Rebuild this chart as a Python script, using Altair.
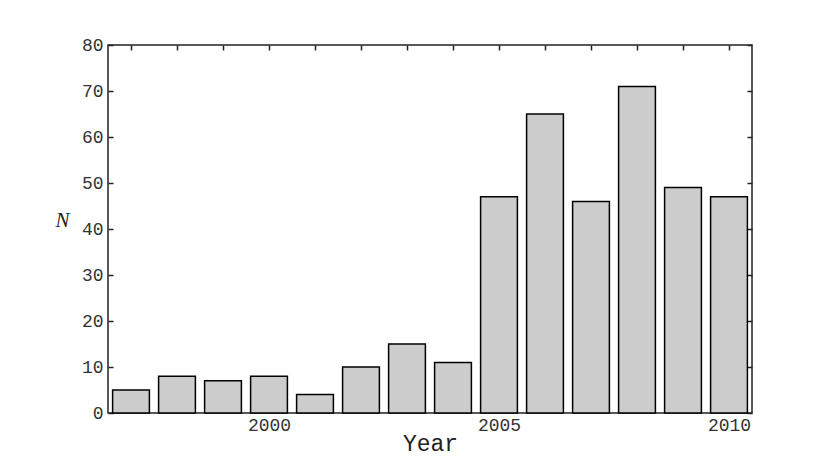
import altair as alt
import pandas as pd

years = list(range(1997, 2011))
counts = [5, 8, 7, 8, 4, 10, 15, 11, 47, 65, 46, 71, 49, 47]
x_label_values = [2000, 2005, 2010]
y_tick_values = [0, 10, 20, 30, 40, 50, 60, 70, 80]

df = pd.DataFrame({"year": years, "n": counts})

MONO = "Liberation Mono"
INK = "#222222"

xscale = alt.Scale(domain=[1996.5, 2010.5], nice=False, zero=False)
yscale = alt.Scale(domain=[0, 80], nice=False, zero=True)

base = alt.Chart(df).transform_calculate(
    x0="datum.year - 0.4", x1="datum.year + 0.4"
)

bars = base.mark_bar(fill="#cccccc", stroke="#000000", strokeWidth=1.5).encode(
    x=alt.X(
        "x0:Q",
        scale=xscale,
        axis=alt.Axis(
            orient="bottom", values=x_label_values, format="d", ticks=False,
            domain=False, grid=False, labelFont=MONO, labelFontSize=18,
            labelColor="#333333", labelPadding=3, labelFlush=False,
            title="Year", titleFont=MONO, titleFontSize=23,
            titleFontWeight="normal", titleColor="#222222", titlePadding=-2,
        ),
    ),
    x2="x1:Q",
    y=alt.Y(
        "n:Q",
        scale=yscale,
        axis=alt.Axis(
            orient="left", values=y_tick_values, offset=-5, tickSize=5,
            tickWidth=1.5, tickColor=INK, domain=False, grid=False,
            labelFont=MONO, labelFontSize=18, labelColor="#333333",
            labelPadding=5, labelFlush=False,
            title="N", titleAngle=0, titleX=-51, titleY=175,
            titleAlign="center", titleBaseline="middle",
            titleFont="Liberation Serif", titleFontStyle="italic",
            titleFontSize=21, titleFontWeight="normal", titleColor="#222222",
        ),
    ),
    y2=alt.datum(0),
)

frame = base.mark_bar(opacity=0).encode(
    x=alt.X(
        "x0:Q",
        scale=xscale,
        axis=alt.Axis(
            orient="top", values=years, labels=False, offset=-5, tickSize=5,
            tickWidth=1.5, tickColor=INK, domain=False, grid=False, title="",
        ),
    ),
    x2="x1:Q",
    y=alt.Y(
        "n:Q",
        scale=yscale,
        axis=alt.Axis(
            orient="right", values=y_tick_values, labels=False, offset=-5,
            tickSize=5, tickWidth=1.5, tickColor=INK, domain=False,
            grid=False, title="",
        ),
    ),
    y2=alt.datum(0),
)

chart = (
    alt.layer(frame, bars)
    .resolve_axis(x="independent", y="independent")
    .properties(
        width=644,
        height=368,
        autosize=alt.AutoSizeParams(type="none"),
        padding={"left": 100, "top": 37, "right": 70, "bottom": 55},
    )
    .configure_view(stroke=INK, strokeWidth=1.5)
)

chart.save("out.html", embed_options={"renderer": "svg", "actions": False})
